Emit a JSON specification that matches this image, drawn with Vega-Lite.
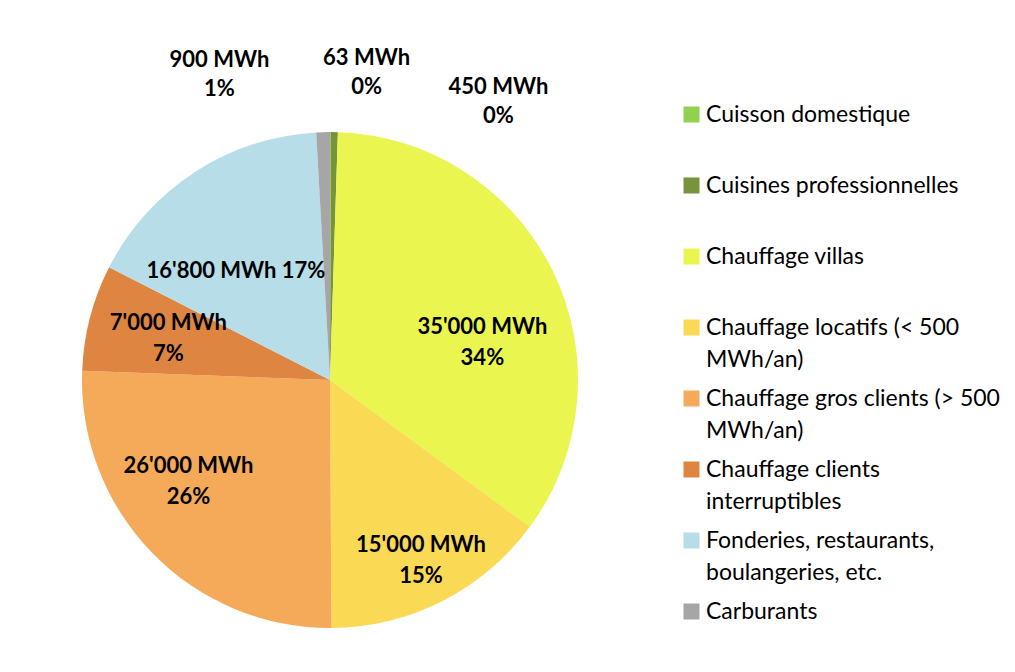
{
  "$schema": "https://vega.github.io/schema/vega-lite/v6.json",
  "autosize": {"type": "none"},
  "padding": {"left": 0, "top": 132, "right": 355, "bottom": 44},
  "width": 660,
  "height": 496,
  "background": "white",
  "config": {
    "view": {"stroke": null},
    "style": {"guide-label": {"lineHeight": 32}}
  },
  "data": {
    "values": [
      {"k": 1, "cat": "Cuisson domestique", "mwh": 63, "lbl": "63 MWh\n0%"},
      {"k": 2, "cat": "Cuisines professionnelles", "mwh": 450, "lbl": "450 MWh\n0%"},
      {"k": 3, "cat": "Chauffage villas", "mwh": 35000, "lbl": "35'000 MWh\n34%"},
      {"k": 4, "cat": "Chauffage locatifs (< 500 MWh/an)", "mwh": 15000, "lbl": "15'000 MWh\n15%"},
      {"k": 5, "cat": "Chauffage gros clients (> 500 MWh/an)", "mwh": 26000, "lbl": "26'000 MWh\n26%"},
      {"k": 6, "cat": "Chauffage clients interruptibles", "mwh": 7000, "lbl": "7'000 MWh\n7%"},
      {"k": 7, "cat": "Fonderies, restaurants, boulangeries, etc.", "mwh": 16800, "lbl": "16'800 MWh 17%"},
      {"k": 8, "cat": "Carburants", "mwh": 900, "lbl": "900 MWh\n1%"}
    ]
  },
  "encoding": {
    "theta": {"field": "mwh", "type": "quantitative", "stack": true},
    "order": {"field": "k", "type": "quantitative"}
  },
  "layer": [
    {
      "mark": {"type": "arc", "outerRadius": 248},
      "encoding": {
        "color": {
          "field": "cat",
          "type": "nominal",
          "scale": {
            "domain": ["Cuisson domestique", "Cuisines professionnelles", "Chauffage villas", "Chauffage locatifs (< 500 MWh/an)", "Chauffage gros clients (> 500 MWh/an)", "Chauffage clients interruptibles", "Fonderies, restaurants, boulangeries, etc.", "Carburants"],
            "range": ["#92D050", "#77933C", "#EAF54F", "#FAD955", "#F5AA59", "#DE8541", "#B7DDE8", "#A6A6A6"]
          },
          "legend": {
            "title": null,
            "orient": "none",
            "legendX": 680,
            "legendY": -29,
            "padding": 0,
            "symbolType": "square",
            "symbolSize": 256,
            "symbolStrokeWidth": 0,
            "labelFont": "Lato",
            "labelFontSize": 23,
            "labelColor": "#000000",
            "labelLimit": 400,
            "labelOffset": 3,
            "labelBaseline": "middle",
            "rowPadding": 15,
            "gridAlign": "all",
            "labelExpr": "split(replace(replace(replace(datum.label, ' MWh', '|MWh'), ' interr', '|interr'), ' boul', '|boul'), '|')"
          }
        }
      }
    },
    {
      "mark": {
        "type": "text",
        "font": "Lato",
        "fontSize": 22,
        "fontWeight": "bold",
        "color": "#000000",
        "lineBreak": "\n",
        "lineHeight": {"expr": "datum.mwh < 1000 ? 29 : 31"},
        "align": "center",
        "baseline": "middle",
        "radius": {"expr": "datum.mwh < 1000 ? 307 : 165"},
        "dx": {"expr": "datum.k == 1 ? 36 : datum.k == 2 ? 163 : datum.k == 8 ? -102 : datum.k == 3 ? 4 : datum.k == 4 ? 16 : datum.k == 5 ? -23 : datum.k == 6 ? -2 : -4"},
        "dy": {"expr": "datum.k == 1 ? -15 : datum.k == 2 ? 14 : datum.k == 8 ? -13 : datum.k == 3 ? 19 : datum.k == 4 ? 18 : datum.k == 5 ? -29 : datum.k == 6 ? -15 : 29"}
      },
      "encoding": {
        "text": {"field": "lbl", "type": "nominal"}
      }
    }
  ]
}
